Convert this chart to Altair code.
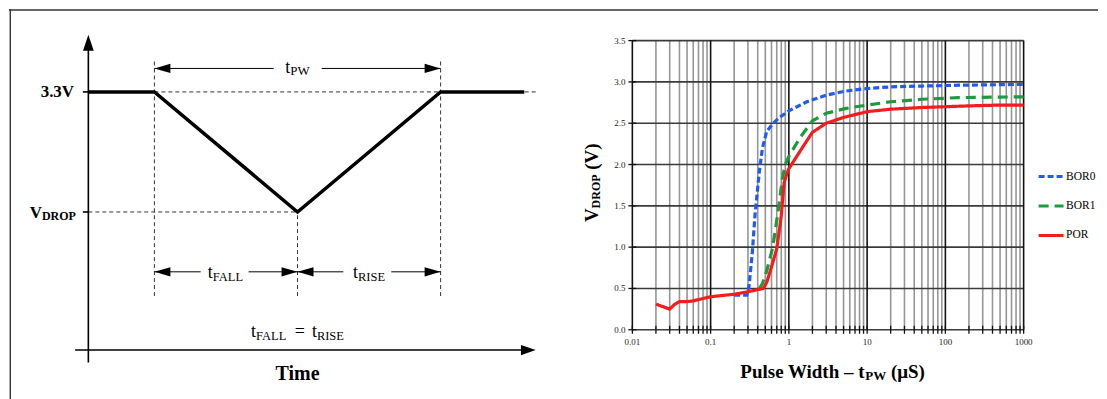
import altair as alt
import pandas as pd

SERIF = "Liberation Serif"

# ---------------- right panel: measured curves ----------------
series_names = ["BOR0", "BOR1", "POR"]
series_colors = ["#1f5bf0", "#1d9a3c", "#f41c1c"]
series_dash = [[6, 3], [10, 6], [1, 0]]

bor0_x = [0.2, 0.29, 0.31, 0.34, 0.37, 0.42, 0.46, 0.52, 0.63, 0.76, 1.0, 1.7, 3.0, 5.4, 10, 20, 50, 150, 1000]
bor0_y = [0.42, 0.42, 0.53, 0.92, 1.40, 1.92, 2.20, 2.40, 2.50, 2.57, 2.65, 2.76, 2.84, 2.89, 2.92, 2.94, 2.95, 2.96, 2.97]

bor1_x = [0.42, 0.46, 0.52, 0.62, 0.72, 0.83, 0.9, 1.0, 1.4, 2.0, 3.0, 5.4, 10, 20, 50, 150, 1000]
bor1_y = [0.50, 0.56, 0.71, 0.99, 1.40, 1.84, 2.00, 2.10, 2.33, 2.53, 2.62, 2.68, 2.72, 2.76, 2.79, 2.81, 2.82]

por_x = [0.02, 0.03, 0.035, 0.04, 0.05, 0.06, 0.1, 0.2, 0.3, 0.47, 0.52, 0.6, 0.7, 0.8, 0.87, 0.95, 1.0,
         1.5, 2.0, 3.0, 5.0, 10, 20, 50, 100, 200, 500, 1000]
por_y = [0.31, 0.25, 0.31, 0.34, 0.34, 0.35, 0.40, 0.43, 0.46, 0.50, 0.57, 0.76, 0.98, 1.38, 1.78, 1.90, 1.95,
         2.21, 2.39, 2.50, 2.57, 2.64, 2.67, 2.69, 2.70, 2.71, 2.72, 2.72]

x_tick_values = [0.01, 0.1, 1, 10, 100, 1000]
x_tick_labels = ["0.01", "0.1", "1", "10", "100", "1000"]
y_tick_values = [0.0, 0.5, 1.0, 1.5, 2.0, 2.5, 3.0, 3.5]
y_tick_labels = ["0.0", "0.5", "1.0", "1.5", "2.0", "2.5", "3.0", "3.5"]
decades = [0.01, 0.1, 1, 10, 100]
minor_mult = [2, 3, 4, 5, 6, 7, 8, 9]

# ---------------- left panel: schematic (time units, volts) ----------------
V_TOP = 3.3
V_DROP = 1.765
pulse_t = [0, 15, 47.5, 80, 99]
pulse_v = [V_TOP, V_TOP, V_DROP, V_TOP, V_TOP]

guide_t1 = [15, 0, 15, 47.5, 80]
guide_t2 = [101.6, 47.5, 15, 47.5, 80]
guide_v1 = [V_TOP, V_DROP, 0.69, 0.69, 0.69]
guide_v2 = [V_TOP, V_DROP, 3.70, V_DROP, 3.70]

axis_t1 = [0, -3, -1.25, -1.25]
axis_t2 = [0, 99, 0, 0]
axis_v1 = [-0.16, 0, V_TOP, V_DROP]
axis_v2 = [3.95, 0, V_TOP, V_DROP]

dim_t1 = [15, 53.0, 15, 36.4, 47.5, 68.8]
dim_t2 = [42.1, 80, 25.5, 47.5, 57.9, 80]
dim_v = [3.6, 3.6, 1.0, 1.0, 1.0, 1.0]

head_left_t = [15, 15, 47.5]
head_left_v = [3.6, 1.0, 1.0]
head_right_t = [80, 47.5, 80]
head_right_v = [3.6, 1.0, 1.0]

# ---------------- layout ----------------
WL, WR, H = 560, 531, 391
XS_L = alt.Scale(domain=[0, 80], range=[79.5, 432.4], nice=False, zero=False)
YS_L = alt.Scale(domain=[0, 3.3], range=[341.3, 82.7], nice=False, zero=False)
XS_R = alt.Scale(type="log", domain=[0.01, 1000], range=[64.5, 456.5], nice=False)
YS_R = alt.Scale(domain=[0, 3.5], range=[321.0, 31.3], nice=False, zero=False)

REG = {'t': 278, 'P': 556, 'W': 944, 'F': 556, 'A': 722, 'L': 611, 'R': 667, 'I': 333,
       'S': 556, 'E': 611, ' ': 250, '=': 564}
BOLD = {'P': 611, 'u': 556, 'l': 278, 's': 389, 'e': 444, ' ': 250, 'W': 1000, 'i': 278,
        'd': 556, 't': 333, 'h': 556, '–': 500, '(': 333, ')': 333, 'μ': 556, 'S': 556,
        'V': 722, 'D': 722, 'R': 722, 'O': 778, 'T': 667, 'm': 833, '3': 500, '.': 250}


def tw(s, size, bold):
    tab = BOLD if bold else REG
    return sum(tab.get(c, 500) for c in s) * size / 1000.0


def one():
    return pd.DataFrame({"k": [0]})


def piece(text, x, y, dx=0.0, dy=0.0, size=12, bold=False, align="left", angle=0,
          baseline="alphabetic"):
    kw = dict(text=text, dx=dx, dy=dy, fontSize=size, font=SERIF,
              fontWeight="bold" if bold else "normal", align=align, baseline=baseline,
              color="black")
    if angle:
        kw["angle"] = angle
    return alt.Chart(one()).mark_text(**kw).encode(x=x, y=y)


def composite(parts, x, y, anchor="center", angle=0, sub_shift=2.5):
    widths = []
    for p in parts:
        widths.append(p[1] if p[0] == "" else tw(p[0], p[1], p[2]))
    total = sum(widths)
    off = -total / 2 if anchor == "center" else (-total if anchor == "right" else 0)
    out = []
    for p, w in zip(parts, widths):
        if p[0] != "":
            out.append(piece(p[0], x, y, dx=off, dy=(sub_shift if p[3] else 0), size=p[1],
                             bold=p[2], angle=angle))
        off += w
    return out


# ---------------- left panel ----------------
lx = lambda f: alt.X(f, type="quantitative", scale=XS_L, axis=None)
ly = lambda f: alt.Y(f, type="quantitative", scale=YS_L, axis=None)

pulse = alt.Chart(pd.DataFrame({"t": pulse_t, "v": pulse_v})).mark_line(
    color="black", strokeWidth=3.5, strokeJoin="miter").encode(x=lx("t"), y=ly("v"))

guides = alt.Chart(pd.DataFrame({"t": guide_t1, "t2": guide_t2, "v": guide_v1, "v2": guide_v2})).mark_rule(
    color="#333333", strokeWidth=1, strokeDash=[4, 3]).encode(
    x=lx("t"), x2="t2", y=ly("v"), y2="v2")

axes_l = alt.Chart(pd.DataFrame({"t": axis_t1, "t2": axis_t2, "v": axis_v1, "v2": axis_v2})).mark_rule(
    color="black", strokeWidth=1.6).encode(x=lx("t"), x2="t2", y=ly("v"), y2="v2")

dims = alt.Chart(pd.DataFrame({"t": dim_t1, "t2": dim_t2, "v": dim_v})).mark_rule(
    color="black", strokeWidth=1).encode(x=lx("t"), x2="t2", y=ly("v"))

P_LEFT = "M0,0L2,-0.58L2,0.58Z"
P_RIGHT = "M0,0L-2,-0.58L-2,0.58Z"
P_UP = "M0,0L-0.67,2L0.67,2Z"
P_AXR = "M0,0L-1.85,-0.64L-1.85,0.64Z"


def heads(ts, vs, path):
    return alt.Chart(pd.DataFrame({"t": ts, "v": vs})).mark_point(
        shape=path, size=256, filled=True, opacity=1, color="black", strokeWidth=0).encode(
        x=lx("t"), y=ly("v"))


h_left = heads(head_left_t, head_left_v, P_LEFT)
h_right = heads(head_right_t, head_right_v, P_RIGHT)
h_up = heads([0], [4.03], P_UP)
h_axr = heads([101.6], [0], P_AXR)

d = lambda v: alt.datum(v)
left_text = []
left_text.append(piece("3.3V", d(-3.24), d(V_TOP), size=17, bold=True, align="right", baseline="middle"))
left_text += composite([("V", 17, True, False), ("DROP", 12, True, True)], d(-2.83), d(1.685),
                       anchor="right", sub_shift=1.5)
left_text += composite([("t", 18, False, False), ("PW", 13, False, True)], d(47.5), d(3.543))
left_text += composite([("t", 18, False, False), ("FALL", 12.5, False, True)], d(31.25), d(0.919))
left_text += composite([("t", 18, False, False), ("RISE", 12.5, False, True)], d(63.75), d(0.919))
left_text += composite([("t", 18, False, False), ("FALL", 12.5, False, True), ("", 7.5),
                        ("=", 18, False, False), ("", 7.0), ("t", 18, False, False),
                        ("RISE", 12.5, False, True)], d(47.5), d(0.161))
left_text.append(piece("Time", d(47.5), d(-0.379), size=20, bold=True, align="center"))

frame_top_l = alt.Chart(one()).mark_rule(color="#333333", strokeWidth=1.4).encode(
    x=alt.value(0), x2=alt.value(WL), y=alt.value(0.7))
frame_left = alt.Chart(one()).mark_rule(color="#333333", strokeWidth=1.4).encode(
    x=alt.value(1.3), y=alt.value(0), y2=alt.value(H))

left = alt.layer(guides, pulse, axes_l, dims, h_left, h_right, h_up, h_axr, *left_text,
                 frame_top_l, frame_left).properties(width=WL, height=H)

# ---------------- right panel ----------------
rx = lambda f: alt.X(f, type="quantitative", scale=XS_R, axis=None)
ry = lambda f: alt.Y(f, type="quantitative", scale=YS_R, axis=None)

minor_x = [m * dd for dd in decades for m in minor_mult]

g_minor = alt.Chart(pd.DataFrame({"x": minor_x, "y0": 0.0, "y1": 3.5})).mark_rule(
    color="#969696", strokeWidth=1.6).encode(x=rx("x"), y=ry("y0"), y2="y1")
g_h = alt.Chart(pd.DataFrame({"y": y_tick_values, "x0": 0.01, "x1": 1000.0})).mark_rule(
    color="#3a3a3a", strokeWidth=1.6).encode(y=ry("y"), x=rx("x0"), x2="x1")
g_major = alt.Chart(pd.DataFrame({"x": x_tick_values, "y0": 0.0, "y1": 3.5})).mark_rule(
    color="#111111", strokeWidth=1.6).encode(x=rx("x"), y=ry("y0"), y2="y1")

all_x = minor_x + x_tick_values
ticks_x = alt.Chart(pd.DataFrame({"x": all_x, "y": [0.0] * len(all_x)})).mark_tick(
    orient="vertical", size=8, thickness=1.3, color="#111111", opacity=1).encode(x=rx("x"), y=ry("y"))
ticks_y = alt.Chart(pd.DataFrame({"y": y_tick_values, "x": [0.01] * len(y_tick_values)})).mark_tick(
    orient="horizontal", size=8, thickness=1.3, color="#111111", opacity=1).encode(y=ry("y"), x=rx("x"))

curves = pd.DataFrame({
    "x": bor0_x + bor1_x + por_x,
    "y": bor0_y + bor1_y + por_y,
    "series": ["BOR0"] * len(bor0_x) + ["BOR1"] * len(bor1_x) + ["POR"] * len(por_x),
})
leg = alt.Legend(orient="none", legendX=1030, legendY=153.5, title=None, symbolType="stroke",
                 symbolStrokeWidth=3, symbolSize=625, labelFont=SERIF, labelFontSize=11.5,
                 labelColor="black", labelOffset=1, rowPadding=9.5, padding=0)
lines = alt.Chart(curves).mark_line(strokeWidth=3.2, strokeCap="butt").encode(
    x=rx("x"), y=ry("y"),
    color=alt.Color("series:N", scale=alt.Scale(domain=series_names, range=series_colors), legend=leg),
    strokeDash=alt.StrokeDash("series:N", scale=alt.Scale(domain=series_names, range=series_dash), legend=leg),
)

xlab = alt.Chart(pd.DataFrame({"x": x_tick_values, "y": [0.0] * 6, "lab": x_tick_labels})).mark_text(
    font=SERIF, fontSize=9, color="#222222", dy=12, baseline="middle", align="center").encode(
    x=rx("x"), y=ry("y"), text="lab:N")
ylab = alt.Chart(pd.DataFrame({"y": y_tick_values, "x": [0.01] * 8, "lab": y_tick_labels})).mark_text(
    font=SERIF, fontSize=9, color="#222222", dx=-7, baseline="middle", align="right").encode(
    y=ry("y"), x=rx("x"), text="lab:N")

xtitle = composite([("Pulse Width – t", 19, True, False), ("PW", 13, True, True), ("", 4.75),
                    ("(μS)", 19, True, False)], alt.value(265), alt.value(369.3), sub_shift=2.5)
ytitle = composite([("V", 19, True, False), ("DROP", 12, True, True), ("", 4.75),
                    ("(V)", 19, True, False)], alt.value(29.7), alt.value(173.7), angle=270,
                   sub_shift=2.5)

frame_top_r = alt.Chart(one()).mark_rule(color="#333333", strokeWidth=1.4).encode(
    x=alt.value(0), x2=alt.value(WR), y=alt.value(0.7))

right = alt.layer(g_minor, g_h, g_major, ticks_x, ticks_y, lines, xlab, ylab, *xtitle, *ytitle,
                  frame_top_r).properties(width=WR, height=H)

chart = alt.hconcat(left, right, spacing=0, bounds="flush").properties(
    padding=0, background="white"
).configure_view(stroke=None).configure_legend(
    labelFont=SERIF, labelFontSize=11.5, labelColor="black", symbolType="stroke",
    symbolStrokeWidth=3, symbolSize=625, rowPadding=9.5, labelOffset=1, padding=0
)

chart.save("out.html", embed_options={"renderer": "svg", "actions": False})
